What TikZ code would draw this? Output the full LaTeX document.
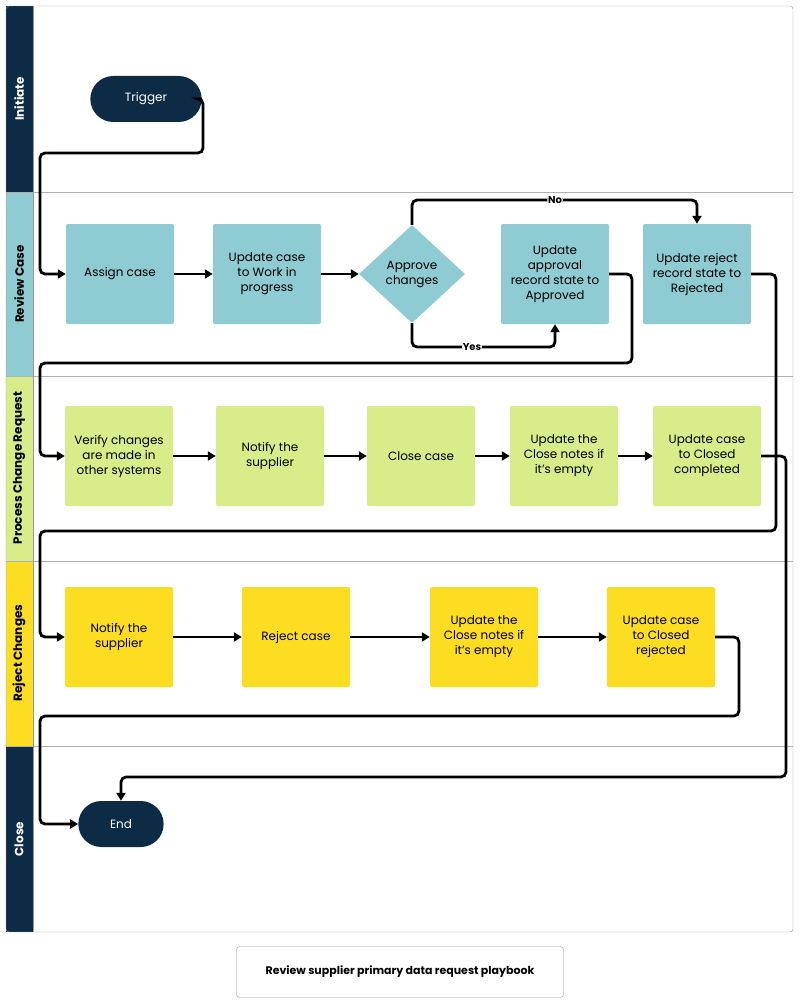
\documentclass[tikz,border=0pt]{standalone}
\usepackage{fontspec}
\setmainfont{Poppins}
\usetikzlibrary{shapes.geometric,shapes.misc,arrows.meta}
\definecolor{navy}{HTML}{0D2B45}
\definecolor{cblue}{HTML}{8FCBD3}
\definecolor{cgreen}{HTML}{D9EC8A}
\definecolor{cyell}{HTML}{FDDD22}
\begin{document}
\begin{tikzpicture}[x=1pt,y=-1pt,
 box/.style={rectangle,rounded corners=2pt,minimum width=108pt,minimum height=100pt,align=center,font=\fontsize{12}{15}\selectfont},
 term/.style={rounded rectangle,fill=navy,text=white,font=\fontsize{12}{15}\selectfont},
 conn/.style={line width=2.8pt,rounded corners=5pt,-{Triangle[length=8pt,width=9pt]}},
 lane/.style={font=\bfseries\fontsize{12}{14}\selectfont,rotate=90}]
\useasboundingbox (0,0) rectangle (800,1003);
% lanes
\fill[navy] (6,6) rectangle (33,192);
\fill[cblue] (6,192) rectangle (33,376);
\fill[cgreen] (6,376) rectangle (33,561);
\fill[cyell] (6,561) rectangle (33,746);
\fill[navy] (6,746) rectangle (33,932);
\foreach \y in {192,376,561,746} \draw[gray!60] (6,\y) -- (793,\y);
\draw[gray!80,rounded corners=3pt] (6,6) rectangle (793,932);
\draw[gray!80] (33,6) -- (33,932);
\node[lane,text=white] (l1) at (19,99) {Initiate};
\node[lane] (l2) at (19,284) {Review Case};
\node[lane] (l3) at (19,468) {Process Change Request};
\node[lane] (l4) at (19,653) {Reject Changes};
\node[lane,text=white] (l5) at (19,839) {Close};
% nodes
\node[term,minimum width=118pt,minimum height=46pt] (trig) at (146,99) {Trigger};
\node[box,fill=cblue] (a1) at (120,274) {Assign case};
\node[box,fill=cblue] (a2) at (267,274) {Update case\\to Work in\\progress};
\node[diamond,fill=cblue,minimum width=106pt,minimum height=98pt,inner sep=0pt,align=center,font=\fontsize{12}{15}\selectfont] (dia) at (412,274) {Approve\\changes};
\node[box,fill=cblue] (a3) at (555,274) {Update\\approval\\record state to\\Approved};
\node[box,fill=cblue] (a4) at (697,274) {Update reject\\record state to\\Rejected};
\node[box,fill=cgreen] (g1) at (119,456) {Verify changes\\are made in\\other systems};
\node[box,fill=cgreen] (g2) at (270,456) {Notify the\\supplier};
\node[box,fill=cgreen] (g3) at (421,456) {Close case};
\node[box,fill=cgreen] (g4) at (564,456) {Update the\\Close notes if\\it's empty};
\node[box,fill=cgreen] (g5) at (707,456) {Update case\\to Closed\\completed};
\node[box,fill=cyell] (y1) at (119,637) {Notify the\\supplier};
\node[box,fill=cyell] (y2) at (296,637) {Reject case};
\node[box,fill=cyell] (y3) at (484,637) {Update the\\Close notes if\\it's empty};
\node[box,fill=cyell] (y4) at (661,637) {Update case\\to Closed\\rejected};
\node[term,minimum width=92pt,minimum height=46pt] (end) at (121,824) {End};
\node[draw=gray!80,rounded corners=3pt,minimum width=327pt,minimum height=51pt,font=\bfseries\fontsize{11}{13}\selectfont] (title) at (400,972) {Review supplier primary data request playbook};
% connectors
\draw[conn] (trig.east) -| (203,153) -| (40,274) -- (a1.west);
\draw[conn] (a1) -- (a2);
\draw[conn] (a2) -- (dia);
\draw[conn] (dia.north) |- (555,200) node[font=\bfseries\fontsize{10}{12}\selectfont,fill=white,inner sep=1pt]{No} -| (a4.north);
\draw[conn] (dia.south) |- (472,347) node[font=\bfseries\fontsize{10}{12}\selectfont,fill=white,inner sep=1pt]{Yes} -| (a3.south);
\draw[conn] (a3.east) -| (632,363) -| (40,456) -- (g1.west);
\draw[conn] (g1) -- (g2);
\draw[conn] (g2) -- (g3);
\draw[conn] (g3) -- (g4);
\draw[conn] (g4) -- (g5);
\draw[conn] (a4.east) -| (776,531) -| (40,637) -- (y1.west);
\draw[conn] (y1) -- (y2);
\draw[conn] (y2) -- (y3);
\draw[conn] (y3) -- (y4);
\draw[conn] (g5.east) -| (786,777) -| (end.north);
\draw[conn] (y4.east) -| (739,716) -| (40,824) -- (end.west);
\end{tikzpicture}
\end{document}
